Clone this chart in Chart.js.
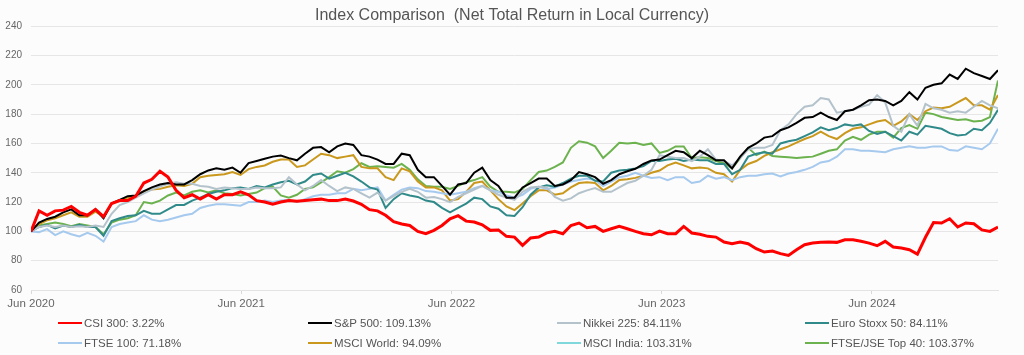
<!DOCTYPE html>
<html>
<head>
<meta charset="utf-8">
<script src="https://cdn.jsdelivr.net/npm/chart.js@4.4.1/dist/chart.umd.min.js"></script>
<style>
  html,body{margin:0;padding:0;background:#fcfcfc;}
  #wrap{position:relative;width:1024px;height:355px;overflow:hidden;}
  #legend{position:absolute;left:0;top:0;width:1024px;height:355px;pointer-events:none;
    font-family:'Liberation Sans',Arial,sans-serif;font-size:11.5px;color:#555;}
  .item{position:absolute;display:flex;align-items:center;height:14px;white-space:nowrap;}
  .swatch{display:inline-block;width:24px;height:2px;margin-right:2px;}
</style>
</head>
<body>
<div id="wrap">
  <canvas id="c" width="1024" height="355"></canvas>
  <div id="legend"></div>
</div>
<script>
// ---- data (fortnightly readings from 1 Jun 2020, index = 100 at start) ----
const titleText = 'Index Comparison  (Net Total Return in Local Currency)';
const tickWeeks = [0, 52.18, 104.36, 156.54, 208.72];
const tickLabels = ['Jun 2020', 'Jun 2021', 'Jun 2022', 'Jun 2023', 'Jun 2024'];
const seriesNames = ['CSI 300', 'S&P 500', 'Nikkei 225', 'Euro Stoxx 50', 'FTSE 100', 'MSCI World', 'MSCI India', 'FTSE/JSE Top 40'];
const seriesReturns = ['3.22%', '109.13%', '84.11%', '84.11%', '71.18%', '94.09%', '103.31%', '103.37%'];

const csi300 = [100,114,111,114,114.5,117,113,111,115,110,
119,121,121,124,133,135.5,141,137,128,123,
125,122,125,122,125,125,127,125,121,120,
118.5,120,121,120.5,121,121.5,122,121,121,122,
120.7,118.5,114.8,114,111,106.6,105,104,100,98.4,
100.7,104,108.6,110.7,107,106.4,104.5,100.7,101,96.6,
96.1,90.5,95.5,96.1,99,100,98.4,104,105.7,102.5,
103.4,100,101.8,103.4,101.8,100,98.4,97.7,100.2,98.4,
98.4,103.4,98.9,98,96.6,96.1,92.7,91.6,92.7,91.6,
88.2,85.9,86.6,84.8,83.6,87.5,90.9,92,92.5,92.7,
92.5,94.3,94.3,93.2,92,90.2,93.2,89.3,88.6,87.5,
84.5,96,106,105.7,108.6,103,105.7,105.2,101,100,
103];

const sp500 = [100,106,108.5,110,113,115,111,111,115,109,
119,121.5,124,124.5,127.5,130,132,133,132,132,
135,139,141.6,143,142,143.5,140,146.6,148,149.5,
151,151.8,150,148.5,153,157,157.5,154,158,160,
159,152,151,149,146,146,153,152,142,137,
137,131,125,132,133,140,143.5,135,131,123,
123,130,133,136,136,131,132,135,140.5,139,
137,132.5,135,139,141,142.7,146,148.4,149,152,
155,154,150,155,152,148.5,148.5,143,151,157,
160,164,165,169,171,174,177.5,178,181,178,
176,182,183,186,189.5,190,189,186,189,195,
190,198,200,201,207,204,211,208,206,204,
210];

const nikkei225 = [100,103,104,103,104,103,103.5,103,104,103,
112,118,120,123,126,128.5,130.5,132.5,133.5,132.5,
132.5,131,130.5,129,130,129.5,129,129,130,129.5,
129.5,130,137,132,128,131,135,131,127.5,130,
129,126,123,126.5,121,124,127,129,127,123,
123.5,122,120,123.5,126,128.5,131,128,125,123,
121.5,127,130,130.5,130,123.5,121,122.5,126,128,
129.5,127,127,130,133,134.5,138,142,152,151,
150,150,148,151,156,149,148,145,150,156,
157,157,159,169,173,180,185,186,191,190,
181,182,183,185,186.5,193,188,172,168,180,
172,187,184,183,181,182,181,185,189,186,
184];

const euroStoxx50 = [100,103,104.5,102,104,103,104.5,103,103,97,
107,109,110.5,111,114,112,112,115,118,118,
121,123,125.5,127,128,129.5,130,129,131,130,
132,133.5,134.5,132,134,138.5,139.5,136,138,140,
137.5,134,130,128.5,116,122,126,124.5,123.5,121,
120,116,113,116,119,123,122,117,115.5,111,
110.5,116.5,125,130,131.5,130.5,133,136,138,138,
134.5,134,140,141.5,142,143,144.5,148,148,149,
149.5,148,149,148.5,148.5,146,146,139,142,151,
153,154,153,160,161.5,162.5,165,167.5,171,169,
170.5,173,172,173,168.5,166.5,168,165,162,168,
166,172,171,170,167,165.5,166,170,169,174,
183];

const ftse100 = [100,99.5,101.5,97.5,100,98,96.5,99,97,93,
103,105,106,107,111,108,107,108,109.5,111,
112,116,117.5,118.5,118.5,118,117.5,120,120,121,
120,121,121.5,120,122,124,125,125,126,126,
129,128,129,130,121,125,128.5,130,129.5,127.5,
127,126,125,126,127,129.5,131,128,127,124.5,
123,125,129,130.5,129,130,132,134,135,136,
135,131,134,137,138,140,138,136.5,137,135,
137,137,133,134,138,136,137,135,137,138,
138,139,139.5,137.5,139.5,140.5,142,144,147,148,
151,156,156,155,155,154.5,154,156,157,158,
157,157,158,158,155.5,155,158,157,156,160,
170];

const msciWorld = [100,105,107.5,109,111,113,110,110,113.5,110,
119,121,123,124,127,128.5,129,130.5,131.5,131,
132.5,137,138,138.5,139,140.5,138.5,142.5,144,145,
147.5,149,149,144,145,149,153,152,150,151,
152,144,143,143,137,135,143,141,134,130,
130,128,121,122,127,133,134,128,122,117,
114.5,119,124,128,128,125,126,130,133,133.5,
133,128,131,135,135.5,136.5,138,140,141.5,145,
147,145,143,143.5,143,140,139,134,142,146,
148,151.5,154,156,158,160.5,163,165,168,165,
163,167,170,171,173,175,176,172,175,180,
176,182,184.5,184,185,188,191,186,186,183,
193];

const msciIndia = [];

const ftseJseTop40 = [100,104,105,106,105,103.5,105,104,103,98,
106,108,109,111,120,119,121,124.5,126.5,124.5,
127,128,126.5,128,126,125.5,124.5,125.5,126.5,129.5,
130.5,124.5,123,125,129,130,133.5,137,141,140,
142.5,146.5,144,144.5,144,143.5,146,142,135.5,131,
130.5,130.5,129,131,133.5,135,137,130.5,127,127,
126.5,129,135,140.5,141.5,144,147,157,161.5,160.5,
158,150,155,160.5,160,160.5,159,160,153.5,155,
158,158,150,150.5,150,148,146.5,143,150,157,
152,154.5,151.5,151,150.5,150,150.5,151,153,155,
156,162,164.5,162.5,166,168,168,164,170.5,172.5,
170,181,180,178,177,176,176.5,175,175.5,178,
203];

const allSeries = [csi300, sp500, nikkei225, euroStoxx50, ftse100, msciWorld, msciIndia, ftseJseTop40];
const seriesColors = ['#ff0000', '#000000', '#b3c2cb', '#318a8a', '#a6c9ee', '#c9981c', '#80d8dc', '#6cb24e'];
const seriesWidths = [3, 2, 2, 2, 2, 2, 2, 2];

// x positions: weeks since start (fortnightly observations)
const weeks = csi300.map((_, i) => i * 2);

Chart.defaults.font.family = "'Liberation Sans', Arial, sans-serif";

const datasets = allSeries.map((vals, k) => ({
  label: seriesNames[k] + ': ' + seriesReturns[k],
  data: vals.map((v, i) => ({x: weeks[i], y: v})),
  borderColor: seriesColors[k],
  backgroundColor: seriesColors[k],
  borderWidth: seriesWidths[k],
  pointRadius: 0,
  tension: 0,
  fill: false
}));

new Chart(document.getElementById('c'), {
  type: 'line',
  data: { datasets },
  options: {
    responsive: false,
    animation: false,
    events: [],
    layout: { padding: 0 },
    plugins: {
      legend: { display: false },
      tooltip: { enabled: false },
      title: {
        display: true,
        text: titleText,
        color: '#555',
        font: { size: 16, weight: 'normal' },
        padding: { top: 6, bottom: 1 }
      }
    },
    scales: {
      x: {
        type: 'linear',
        min: 0,
        max: 240,
        afterBuildTicks: s => { s.ticks = tickWeeks.map(v => ({ value: v })); },
        afterFit: s => { s.height = 65; },
        ticks: {
          autoSkip: false,
          maxRotation: 0,
          color: '#666',
          font: { size: 11.5 },
          padding: 3,
          callback: (v, i) => tickLabels[i]
        },
        grid: { drawOnChartArea: false, tickLength: 4, color: '#d9d9d9' },
        border: { color: '#e3e3e3' }
      },
      y: {
        min: 60,
        max: 240,
        afterFit: s => { s.width = 31; },
        ticks: { stepSize: 20, color: '#666', font: { size: 10 }, padding: 9 },
        grid: { color: '#e6e6e6', drawTicks: false },
        border: { display: false }
      },
      yRight: {
        position: 'right',
        display: true,
        afterFit: s => { s.width = 26; },
        ticks: { display: false },
        grid: { display: false, drawTicks: false },
        border: { display: false }
      }
    }
  }
});

// ---- legend (4 columns x 2 rows) ----
const legend = document.getElementById('legend');
const colX = [58, 308, 557, 805];
const rowY = [316, 336];
seriesNames.forEach((name, k) => {
  const it = document.createElement('div');
  it.className = 'item';
  it.style.left = colX[k % 4] + 'px';
  it.style.top = rowY[Math.floor(k / 4)] + 'px';
  const sw = document.createElement('span');
  sw.className = 'swatch';
  sw.style.background = seriesColors[k];
  const tx = document.createElement('span');
  tx.textContent = name + ': ' + seriesReturns[k];
  it.appendChild(sw);
  it.appendChild(tx);
  legend.appendChild(it);
});
</script>
</body>
</html>
